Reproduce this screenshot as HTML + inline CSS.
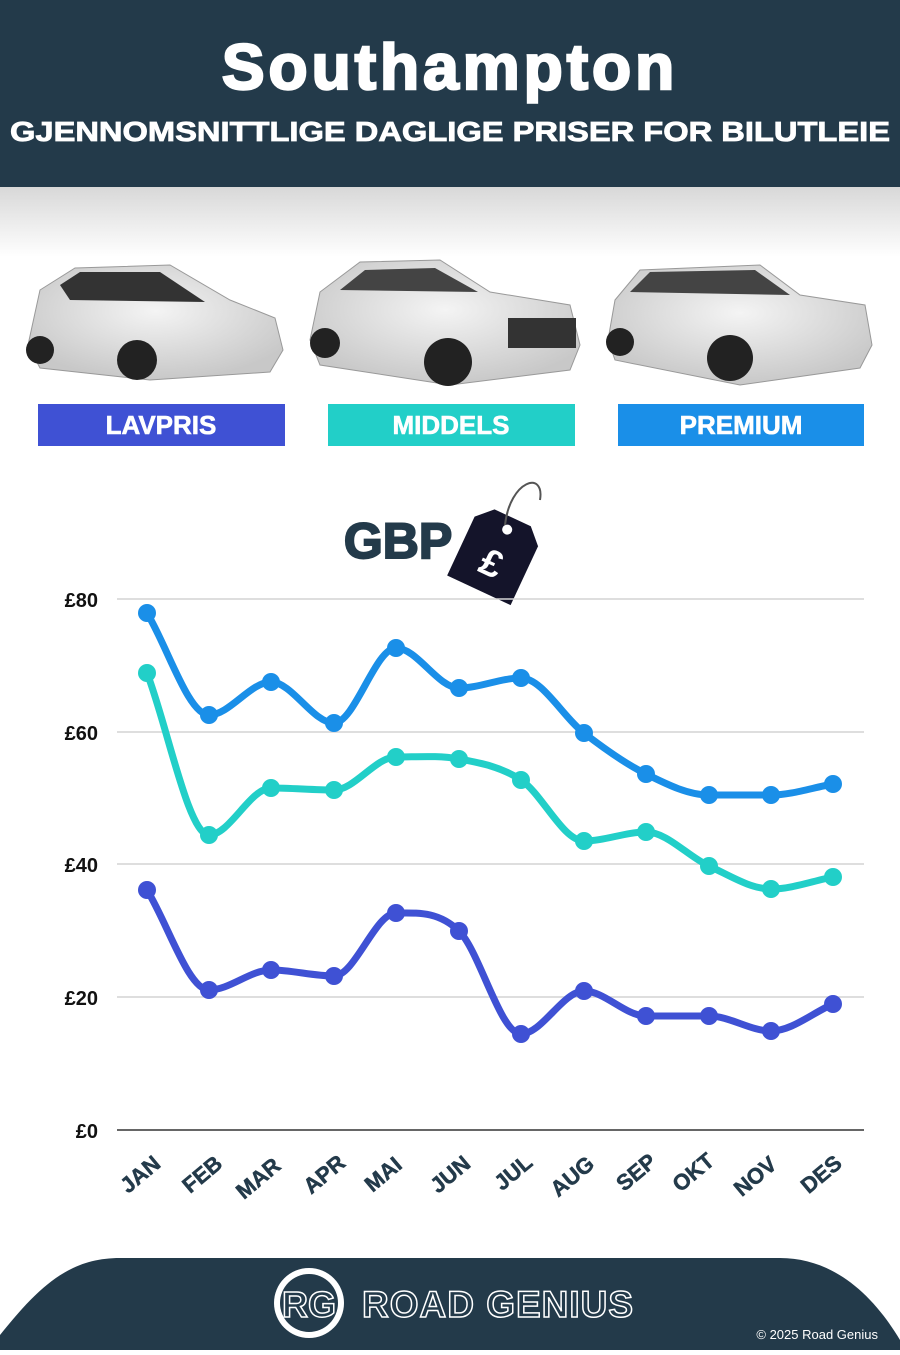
<!DOCTYPE html>
<html><head><meta charset="utf-8"><style>
body{margin:0;width:900px;height:1350px;overflow:hidden;background:#fff;font-family:"Liberation Sans",sans-serif}
</style></head><body>
<svg id="s" width="900" height="1350" viewBox="0 0 900 1350" xmlns="http://www.w3.org/2000/svg">
<defs>
<linearGradient id="sh" x1="0" y1="0" x2="0" y2="1"><stop offset="0" stop-color="#d8d8d8"/><stop offset="1" stop-color="#fff"/></linearGradient>
<radialGradient id="car" cx="0.5" cy="0.4" r="0.6"><stop offset="0" stop-color="#f4f4f4"/><stop offset="1" stop-color="#c8c8c8"/></radialGradient>
</defs>
<rect x="0" y="0" width="900" height="187" fill="#233a4a"/>
<rect x="0" y="187" width="900" height="70" fill="url(#sh)"/>
<text x="450" y="89" text-anchor="middle" font-size="64" font-weight="900" fill="#fff" stroke="#fff" stroke-width="2.5" letter-spacing="4">Southampton</text>
<text x="450" y="141" text-anchor="middle" font-size="28" font-weight="bold" fill="#fff" stroke="#fff" stroke-width="0.8" textLength="880" lengthAdjust="spacingAndGlyphs">GJENNOMSNITTLIGE DAGLIGE PRISER FOR BILUTLEIE</text>
<g>
<path d="M28 345 L40 290 L75 268 L170 265 L230 300 L275 318 L283 350 L270 372 L150 380 L40 368 Z" fill="url(#car)" stroke="#999"/>
<path d="M60 285 L80 272 L160 272 L205 302 L70 300 Z" fill="#333"/>
<circle cx="137" cy="360" r="20" fill="#222"/><circle cx="40" cy="350" r="14" fill="#222"/>
<path d="M310 340 L320 292 L360 262 L440 260 L490 292 L570 305 L580 345 L570 370 L450 385 L320 365 Z" fill="url(#car)" stroke="#999"/>
<path d="M340 290 L365 270 L435 268 L478 292 Z" fill="#444"/>
<rect x="508" y="318" width="68" height="30" fill="#333"/>
<circle cx="448" cy="362" r="24" fill="#222"/><circle cx="325" cy="343" r="15" fill="#222"/>
<path d="M608 340 L615 300 L640 270 L760 265 L800 295 L865 305 L872 345 L860 368 L740 385 L615 360 Z" fill="url(#car)" stroke="#999"/>
<path d="M630 292 L650 272 L755 270 L790 295 Z" fill="#444"/>
<circle cx="730" cy="358" r="23" fill="#222"/><circle cx="620" cy="342" r="14" fill="#222"/>
</g>
<rect x="38" y="404" width="247" height="42" fill="#3f51d4"/>
<rect x="328" y="404" width="247" height="42" fill="#22cfc8"/>
<rect x="618" y="404" width="246" height="42" fill="#1a8fe8"/>
<g font-size="26" font-weight="bold" fill="#fff" stroke="#fff" stroke-width="0.6" text-anchor="middle">
<text x="161" y="434">LAVPRIS</text><text x="451" y="434">MIDDELS</text><text x="741" y="434">PREMIUM</text></g>
<text x="398" y="558" text-anchor="middle" font-size="50" font-weight="900" fill="#233a4a" stroke="#233a4a" stroke-width="2">GBP</text>
<g transform="rotate(25 500 545)">
<path d="M480 515 L520 515 L535 530 L535 595 L465 595 L465 530 Z" fill="#14142a"/>
<circle cx="500" cy="528" r="5" fill="#fff"/>
<text x="500" y="578" text-anchor="middle" font-size="38" font-weight="bold" fill="#fff">£</text>
</g>
<path d="M505 525 C510 480 545 470 540 500" fill="none" stroke="#555" stroke-width="2"/>
<g stroke="#d4d4d4" stroke-width="1.5">
<line x1="117" y1="599" x2="864" y2="599"/><line x1="117" y1="732" x2="864" y2="732"/><line x1="117" y1="864" x2="864" y2="864"/><line x1="117" y1="997" x2="864" y2="997"/></g>
<line x1="117" y1="1130" x2="864" y2="1130" stroke="#333" stroke-width="1.5"/>
<g font-size="20" font-weight="bold" fill="#111" text-anchor="end">
<text x="98" y="607">£80</text><text x="98" y="740">£60</text><text x="98" y="872">£40</text><text x="98" y="1005">£20</text><text x="98" y="1138">£0</text></g>
<g id="series"></g>
<g font-size="22" font-weight="bold" fill="#233a4a" stroke="#233a4a" stroke-width="0.5" text-anchor="middle">
<text transform="translate(145,1180) rotate(-40)">JAN</text>
<text transform="translate(207,1180) rotate(-40)">FEB</text>
<text transform="translate(263,1184) rotate(-40)">MAR</text>
<text transform="translate(329,1180) rotate(-40)">APR</text>
<text transform="translate(388,1180) rotate(-40)">MAI</text>
<text transform="translate(455,1180) rotate(-40)">JUN</text>
<text transform="translate(518,1178) rotate(-40)">JUL</text>
<text transform="translate(577,1182) rotate(-40)">AUG</text>
<text transform="translate(641,1178) rotate(-40)">SEP</text>
<text transform="translate(698,1178) rotate(-40)">OKT</text>
<text transform="translate(760,1182) rotate(-40)">NOV</text>
<text transform="translate(826,1180) rotate(-40)">DES</text>
</g>
<path d="M0 1350 L0 1335 C40 1285 70 1258 120 1258 L780 1258 C830 1258 870 1290 900 1340 L900 1350 Z" fill="#233a4a"/>
<circle cx="309" cy="1303" r="35" fill="#fff"/>
<circle cx="309" cy="1303" r="29" fill="#233a4a"/>
<text x="309" y="1317" text-anchor="middle" font-size="36" font-weight="bold" fill="#233a4a" stroke="#fff" stroke-width="1.5">RG</text>
<text x="362" y="1317" font-size="37" font-weight="bold" fill="#233a4a" stroke="#fff" stroke-width="1.5" letter-spacing="1">ROAD GENIUS</text>
<text x="878" y="1339" text-anchor="end" font-size="13" fill="#fff">© 2025 Road Genius</text>
</svg>
<script>
var xs=[147,209,271,334,396,459,521,584,646,709,771,833];
var S=[["#1a8fe8",[613,715,682,723,648,688,678,733,774,795,795,784]],
["#22cfc8",[673,835,788,790,757,759,780,841,832,866,889,877]],
["#3f51d4",[890,990,970,976,913,931,1034,991,1016,1016,1031,1004]]];
var g=document.getElementById("series"),h="";
S.forEach(function(s){var y=s[1],n=y.length,m=[];
for(var i=0;i<n;i++){var a=i?(y[i]-y[i-1]):(y[1]-y[0]),b=i<n-1?(y[i+1]-y[i]):a;
m.push((a*b<=0)?0:(a+b)/2);}
var d="M"+xs[0]+","+y[0];
for(var i=0;i<n-1;i++){var dx=(xs[i+1]-xs[i])/3;d+=" C"+(xs[i]+dx)+","+(y[i]+m[i]/3)+" "+(xs[i+1]-dx)+","+(y[i+1]-m[i+1]/3)+" "+xs[i+1]+","+y[i+1];}
h+='<path d="'+d+'" fill="none" stroke="'+s[0]+'" stroke-width="7" stroke-linecap="round"/>';
for(var i=0;i<n;i++)h+='<circle cx="'+xs[i]+'" cy="'+y[i]+'" r="9" fill="'+s[0]+'"/>';});
g.innerHTML=h;
</script>
</body></html>
